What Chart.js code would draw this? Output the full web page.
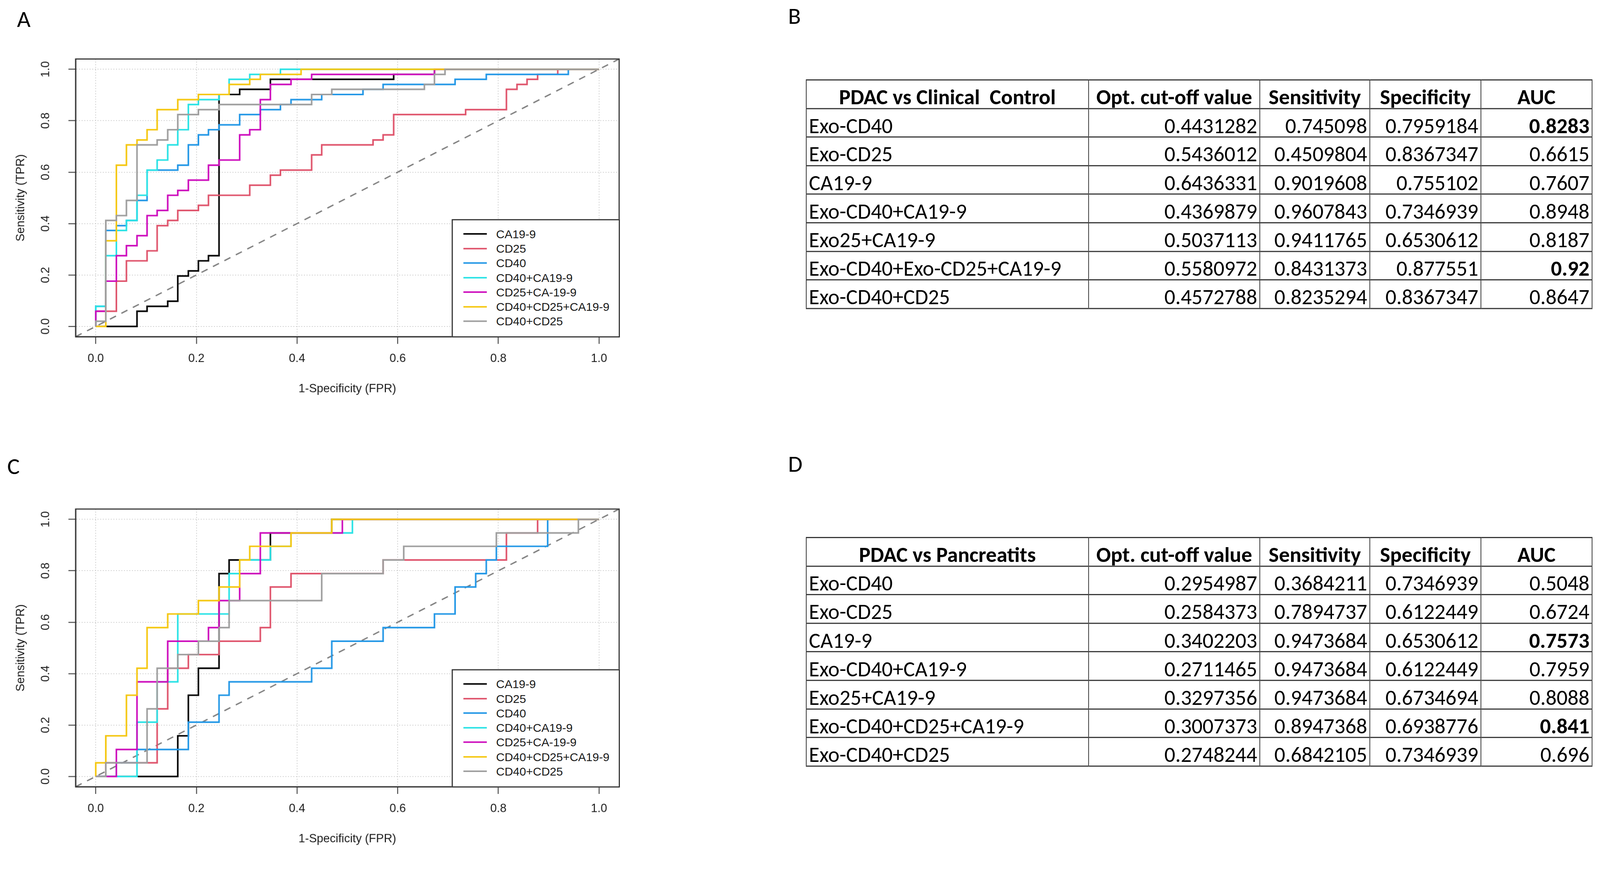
<!DOCTYPE html>
<html>
<head>
<meta charset="utf-8">
<title>ROC curves and cut-off tables</title>
<script src="https://cdn.jsdelivr.net/npm/chart.js@4.4.1/dist/chart.umd.min.js"></script>
<style>
  html, body { margin: 0; padding: 0; background: #fff; overflow: hidden; }
  #page { position: absolute; left: 0; top: 0; width: 4233px; height: 2256px; overflow: hidden;
          transform-origin: 0 0; background: #fff; }
  .plabel { position: absolute; font-family: Carlito, Lato, sans-serif; font-size: 62px; line-height: 62px; color: #000; }
  canvas { position: absolute; left: 0; }
  .legend { position: absolute; box-sizing: border-box; border: 3px solid #333; background: #fff;
            font-family: "Liberation Sans", Arial, sans-serif; font-size: 31px; color: #1a1a1a; }
  .legend .row { position: absolute; left: 0; width: 100%; height: 38px; line-height: 38px; white-space: nowrap; }
  .legend .swatch { position: absolute; left: 28px; top: 16px; width: 62px; height: 4px; }
  .legend .txt { position: absolute; left: 115px; top: 0; }
  table.res { position: absolute; left: 2132px; width: 2079px; border-collapse: collapse; table-layout: fixed;
              font-family: Carlito, Lato, sans-serif; font-size: 57px; line-height: 50px; color: #000; }
  table.res th, table.res td { border-style: solid; border-color: #333; border-width: 3px 2px;
                               padding: 16px 6px 0 6px; white-space: nowrap; overflow: hidden; vertical-align: middle; }
  table.res tr { height: 75.6px; }
  table.res th { font-weight: bold; text-align: center; }
  table.res td { text-align: right; font-weight: normal; }
  table.res td:first-child { text-align: left; }
  table.res td.b { font-weight: bold; }
  col.c1 { width: 747px; } col.c2 { width: 453px; } col.c3 { width: 291px; }
  col.c4 { width: 294px; } col.c5 { width: 294px; }
</style>
</head>
<body>
<div id="page">

<div class="plabel" style="left:45px;top:19px">A</div>
<div class="plabel" style="left:2085px;top:11px">B</div>
<div class="plabel" style="left:19px;top:1203px">C</div>
<div class="plabel" style="left:2085px;top:1196px">D</div>

<canvas id="rocA" width="1700" height="980" style="top:100px"></canvas>
<canvas id="rocC" width="1700" height="980" style="top:1291px"></canvas>

<div id="legA" class="legend" style="left:1194.5px;top:579.5px;width:445px;height:313px"></div>
<div id="legC" class="legend" style="left:1194.5px;top:1770.5px;width:445px;height:313px"></div>

<table id="tabB" class="res" style="top:210px">
  <colgroup><col class="c1"><col class="c2"><col class="c3"><col class="c4"><col class="c5"></colgroup>
  <tbody></tbody>
</table>
<table id="tabD" class="res" style="top:1421px">
  <colgroup><col class="c1"><col class="c2"><col class="c3"><col class="c4"><col class="c5"></colgroup>
  <tbody></tbody>
</table>

</div>

<script>
// axis ticks
const fprTicks = [0, 0.2, 0.4, 0.6, 0.8, 1.0];
const tickLabels = ['0.0', '0.2', '0.4', '0.6', '0.8', '1.0'];
const markers = ['CA19-9', 'CD25', 'CD40', 'CD40+CA19-9', 'CD25+CA-19-9', 'CD40+CD25+CA19-9', 'CD40+CD25'];
const chance = [[-0.04, -0.04], [1.04, 1.04]];

// A: PDAC vs clinical control, [FPR, TPR] corners of each ROC curve
const ctrlCA199 = [[0,0],[0.082,0],[0.082,0.059],[0.102,0.059],[0.102,0.078],[0.143,0.078],[0.143,0.098],[0.163,0.098],
  [0.163,0.196],[0.184,0.196],[0.184,0.216],[0.204,0.216],[0.204,0.255],[0.224,0.255],[0.224,0.275],[0.245,0.275],
  [0.245,0.902],[0.286,0.902],[0.286,0.922],[0.347,0.922],[0.347,0.961],[0.592,0.961],[0.592,0.980],[0.673,0.980],
  [0.673,1],[1,1]];
const ctrlCD25 = [[0,0],[0,0.059],[0.041,0.059],[0.041,0.176],[0.061,0.176],[0.061,0.255],[0.102,0.255],[0.102,0.294],
  [0.122,0.294],[0.122,0.392],[0.143,0.392],[0.143,0.412],[0.163,0.412],[0.163,0.451],[0.204,0.451],[0.204,0.471],
  [0.224,0.471],[0.224,0.510],[0.306,0.510],[0.306,0.549],[0.347,0.549],[0.347,0.588],[0.367,0.588],[0.367,0.608],
  [0.429,0.608],[0.429,0.667],[0.449,0.667],[0.449,0.706],[0.551,0.706],[0.551,0.725],[0.571,0.725],[0.571,0.745],
  [0.592,0.745],[0.592,0.824],[0.735,0.824],[0.735,0.843],[0.816,0.843],[0.816,0.922],[0.837,0.922],[0.837,0.941],
  [0.857,0.941],[0.857,0.961],[0.878,0.961],[0.878,0.980],[0.918,0.980],[0.918,1],[1,1]];
const ctrlCD40 = [[0,0],[0,0.078],[0.020,0.078],[0.020,0.373],[0.041,0.373],[0.041,0.392],[0.061,0.392],[0.061,0.412],
  [0.082,0.412],[0.082,0.490],[0.102,0.490],[0.102,0.608],[0.163,0.608],[0.163,0.627],[0.184,0.627],[0.184,0.706],
  [0.204,0.706],[0.204,0.745],[0.224,0.745],[0.224,0.765],[0.245,0.765],[0.245,0.784],[0.286,0.784],[0.286,0.824],
  [0.327,0.824],[0.327,0.843],[0.367,0.843],[0.367,0.863],[0.388,0.863],[0.388,0.882],[0.449,0.882],[0.449,0.902],
  [0.531,0.902],[0.531,0.922],[0.571,0.922],[0.571,0.941],[0.714,0.941],[0.714,0.961],[0.776,0.961],[0.776,0.980],
  [0.939,0.980],[0.939,1],[1,1]];
const ctrlCD40CA199 = [[0,0],[0,0.078],[0.020,0.078],[0.020,0.275],[0.041,0.275],[0.041,0.373],[0.061,0.373],[0.061,0.412],
  [0.082,0.412],[0.082,0.510],[0.102,0.510],[0.102,0.608],[0.122,0.608],[0.122,0.647],[0.143,0.647],[0.143,0.706],
  [0.163,0.706],[0.163,0.765],[0.184,0.765],[0.184,0.863],[0.204,0.863],[0.204,0.882],[0.245,0.882],[0.245,0.902],
  [0.265,0.902],[0.265,0.961],[0.306,0.961],[0.306,0.980],[0.367,0.980],[0.367,1],[1,1]];
const ctrlCD25CA199 = [[0,0],[0,0.059],[0.020,0.059],[0.020,0.176],[0.041,0.176],[0.041,0.275],[0.061,0.275],[0.061,0.314],
  [0.082,0.314],[0.082,0.353],[0.102,0.353],[0.102,0.431],[0.122,0.431],[0.122,0.451],[0.143,0.451],[0.143,0.510],
  [0.163,0.510],[0.163,0.529],[0.184,0.529],[0.184,0.569],[0.224,0.569],[0.224,0.627],[0.245,0.627],[0.245,0.647],
  [0.286,0.647],[0.286,0.745],[0.306,0.745],[0.306,0.765],[0.327,0.765],[0.327,0.882],[0.347,0.882],[0.347,0.941],
  [0.388,0.941],[0.388,0.961],[0.429,0.961],[0.429,0.980],[0.673,0.980],[0.673,1],[1,1]];
const ctrlCD40CD25CA199 = [[0,0],[0.020,0],[0.020,0.333],[0.041,0.333],[0.041,0.627],[0.061,0.627],[0.061,0.706],
  [0.082,0.706],[0.082,0.725],[0.102,0.725],[0.102,0.765],[0.122,0.765],[0.122,0.843],[0.163,0.843],[0.163,0.882],
  [0.204,0.882],[0.204,0.902],[0.265,0.902],[0.265,0.941],[0.306,0.941],[0.306,0.961],[0.327,0.961],[0.327,0.980],
  [0.408,0.980],[0.408,1],[1,1]];
const ctrlCD40CD25 = [[0,0],[0,0.020],[0.020,0.020],[0.020,0.412],[0.041,0.412],[0.041,0.431],[0.061,0.431],[0.061,0.490],
  [0.082,0.490],[0.082,0.706],[0.122,0.706],[0.122,0.725],[0.143,0.725],[0.143,0.765],[0.163,0.765],[0.163,0.824],
  [0.204,0.824],[0.204,0.843],[0.245,0.843],[0.245,0.863],[0.429,0.863],[0.429,0.902],[0.469,0.902],[0.469,0.922],
  [0.653,0.922],[0.653,0.941],[0.673,0.941],[0.673,0.980],[0.694,0.980],[0.694,1],[1,1]];

// C: PDAC vs pancreatitis
const pancCA199 = [[0,0],[0.163,0],[0.163,0.158],[0.184,0.158],[0.184,0.316],[0.204,0.316],[0.204,0.421],[0.245,0.421],
  [0.245,0.789],[0.265,0.789],[0.265,0.842],[0.347,0.842],[0.347,0.947],[0.469,0.947],[0.469,1],[1,1]];
const pancCD25 = [[0,0],[0.020,0],[0.020,0.053],[0.122,0.053],[0.122,0.263],[0.143,0.263],[0.143,0.421],[0.184,0.421],
  [0.184,0.474],[0.245,0.474],[0.245,0.526],[0.327,0.526],[0.327,0.579],[0.347,0.579],[0.347,0.737],[0.388,0.737],
  [0.388,0.789],[0.571,0.789],[0.571,0.842],[0.816,0.842],[0.816,0.947],[0.878,0.947],[0.878,1],[1,1]];
const pancCD40 = [[0,0],[0.041,0],[0.041,0.053],[0.082,0.053],[0.082,0.105],[0.184,0.105],[0.184,0.211],[0.245,0.211],
  [0.245,0.316],[0.265,0.316],[0.265,0.368],[0.429,0.368],[0.429,0.421],[0.469,0.421],[0.469,0.526],[0.571,0.526],
  [0.571,0.579],[0.673,0.579],[0.673,0.632],[0.714,0.632],[0.714,0.737],[0.755,0.737],[0.755,0.789],[0.776,0.789],
  [0.776,0.842],[0.796,0.842],[0.796,0.895],[0.898,0.895],[0.898,1],[1,1]];
const pancCD40CA199 = [[0,0],[0.082,0],[0.082,0.211],[0.122,0.211],[0.122,0.368],[0.163,0.368],[0.163,0.632],[0.265,0.632],
  [0.265,0.789],[0.286,0.789],[0.286,0.842],[0.347,0.842],[0.347,0.895],[0.388,0.895],[0.388,0.947],[0.510,0.947],
  [0.510,1],[1,1]];
const pancCD25CA199 = [[0,0],[0.041,0],[0.041,0.105],[0.082,0.105],[0.082,0.368],[0.143,0.368],[0.143,0.526],[0.224,0.526],
  [0.224,0.579],[0.245,0.579],[0.245,0.684],[0.286,0.684],[0.286,0.789],[0.327,0.789],[0.327,0.947],[0.490,0.947],
  [0.490,1],[1,1]];
const pancCD40CD25CA199 = [[0,0],[0,0.053],[0.020,0.053],[0.020,0.158],[0.061,0.158],[0.061,0.316],[0.082,0.316],
  [0.082,0.421],[0.102,0.421],[0.102,0.579],[0.143,0.579],[0.143,0.632],[0.204,0.632],[0.204,0.684],[0.245,0.684],
  [0.245,0.737],[0.286,0.737],[0.286,0.842],[0.306,0.842],[0.306,0.895],[0.388,0.895],[0.388,0.947],[0.469,0.947],
  [0.469,1],[1,1]];
const pancCD40CD25 = [[0,0],[0.020,0],[0.020,0.053],[0.102,0.053],[0.102,0.263],[0.122,0.263],[0.122,0.421],[0.163,0.421],
  [0.163,0.474],[0.204,0.474],[0.204,0.526],[0.245,0.526],[0.245,0.579],[0.265,0.579],[0.265,0.684],[0.449,0.684],
  [0.449,0.789],[0.571,0.789],[0.571,0.842],[0.612,0.842],[0.612,0.895],[0.796,0.895],[0.796,0.947],[0.959,0.947],
  [0.959,1],[1,1]];

// tables
const tableCols = ['Opt. cut-off value', 'Sensitivity', 'Specificity', 'AUC'];
const rowNamesB = ['Exo-CD40', 'Exo-CD25', 'CA19-9', 'Exo-CD40+CA19-9', 'Exo25+CA19-9', 'Exo-CD40+Exo-CD25+CA19-9', 'Exo-CD40+CD25'];
const cutoffB = [0.4431282, 0.5436012, 0.6436331, 0.4369879, 0.5037113, 0.5580972, 0.4572788];
const sensB = [0.745098, 0.4509804, 0.9019608, 0.9607843, 0.9411765, 0.8431373, 0.8235294];
const specB = [0.7959184, 0.8367347, 0.755102, 0.7346939, 0.6530612, 0.877551, 0.8367347];
const aucB = [0.8283, 0.6615, 0.7607, 0.8948, 0.8187, 0.92, 0.8647];
const boldB = [0, 5];

const rowNamesD = ['Exo-CD40', 'Exo-CD25', 'CA19-9', 'Exo-CD40+CA19-9', 'Exo25+CA19-9', 'Exo-CD40+CD25+CA19-9', 'Exo-CD40+CD25'];
const cutoffD = [0.2954987, 0.2584373, 0.3402203, 0.2711465, 0.3297356, 0.3007373, 0.2748244];
const sensD = [0.3684211, 0.7894737, 0.9473684, 0.9473684, 0.9473684, 0.8947368, 0.6842105];
const specD = [0.7346939, 0.6122449, 0.6530612, 0.6122449, 0.6734694, 0.6938776, 0.7346939];
const aucD = [0.5048, 0.6724, 0.7573, 0.7959, 0.8088, 0.841, 0.696];
const boldD = [2, 5];

// styles
const lineColors = ['#000000', '#DF536B', '#2297E6', '#28E2E5', '#CD0BBC', '#F5C710', '#9E9E9E'];
const rFont = { family: '"Liberation Sans", Arial, sans-serif', size: 31 };
const ink = '#1a1a1a';
const frameColor = '#333';

// the figure is laid out at 4233 x 2256; shrink it if the viewport is smaller
const fit = Math.min(window.innerWidth / 4233, window.innerHeight / 2256);
if (fit > 0 && fit < 0.999) {
    document.getElementById('page').style.transform = `scale(${fit})`;
}

const framePlugin = {
    id: 'frame',
    afterDraw(chart) {
        const { ctx, chartArea: a } = chart;
        ctx.save();
        ctx.strokeStyle = frameColor;
        ctx.lineWidth = 3;
        ctx.strokeRect(a.left, a.top, a.right - a.left, a.bottom - a.top);
        ctx.restore();
    }
};

function axisOpts(vertical) {
    return {
        type: 'linear',
        min: -0.04,
        max: 1.04,
        afterBuildTicks: s => { s.ticks = fprTicks.map(v => ({ value: v })); },
        afterFit: s => { if (vertical) s.width = 200; else s.height = 189; },
        ticks: {
            callback: (v, i) => tickLabels[i],
            font: rFont,
            color: ink,
            autoSkip: false,
            padding: vertical ? 37.5 : 20.5,
            minRotation: vertical ? 90 : 0,
            maxRotation: vertical ? 90 : 0,
            crossAlign: vertical ? 'center' : 'near'
        },
        grid: {
            color: '#c8c8c8',
            lineWidth: 2,
            drawTicks: true,
            tickLength: 19,
            tickColor: '#444',
            tickWidth: 2.5,
            tickBorderDash: [1000, 0]
        },
        border: { display: true, color: frameColor, width: 3, dash: [2.5, 4.5] },
        title: {
            display: true,
            text: vertical ? 'Sensitivity (TPR)' : '1-Specificity (FPR)',
            font: rFont,
            color: ink,
            padding: vertical ? { top: 36.5, bottom: 0 } : { top: 0, bottom: 32 }
        }
    };
}

function rocChart(canvasId, legendId, curves) {

    let datasets = curves.map((c, i) => ({
        label: markers[i],
        data: c.map(p => ({ x: p[0], y: p[1] })),
        borderColor: lineColors[i],
        borderWidth: 4.2,
        pointRadius: 0,
        tension: 0,
        fill: false,
        order: curves.length - i
    }));

    datasets.push({
        label: 'chance',
        data: chance.map(p => ({ x: p[0], y: p[1] })),
        borderColor: '#7f7f7f',
        borderWidth: 3.5,
        borderDash: [18, 16],
        pointRadius: 0,
        fill: false,
        order: curves.length + 1
    });

    const chart = new Chart(document.getElementById(canvasId), {
        type: 'line',
        data: { datasets: datasets },
        options: {
            responsive: false,
            animation: false,
            layout: { padding: { left: 0, top: 40, right: 62, bottom: 0 } },
            plugins: { legend: { display: false }, tooltip: { enabled: false } },
            scales: { x: axisOpts(false), y: axisOpts(true) }
        },
        plugins: [framePlugin]
    });

    // R style legend box in the lower right corner
    let box = document.getElementById(legendId);
    chart.data.datasets.filter(d => d.label !== 'chance').forEach((d, i) => {
        let row = document.createElement('div');
        row.className = 'row';
        row.style.top = (18.5 + i * 38.5) + 'px';
        row.innerHTML = `<span class="swatch" style="background:${d.borderColor}"></span><span class="txt">${d.label}</span>`;
        box.appendChild(row);
    });
}

function fillTable(id, title, names, cutoff, sens, spec, auc, bold) {
    let body = document.querySelector('#' + id + ' tbody');
    let rows = '<tr><th>' + title + '</th>' + tableCols.map(c => '<th>' + c + '</th>').join('') + '</tr>';
    names.forEach((n, i) => {
        rows += `<tr><td>${n}</td><td>${cutoff[i]}</td><td>${sens[i]}</td><td>${spec[i]}</td>` +
                `<td${bold.includes(i) ? ' class="b"' : ''}>${auc[i]}</td></tr>`;
    });
    body.innerHTML = rows;
}

rocChart('rocA', 'legA', [ctrlCA199, ctrlCD25, ctrlCD40, ctrlCD40CA199, ctrlCD25CA199, ctrlCD40CD25CA199, ctrlCD40CD25]);
rocChart('rocC', 'legC', [pancCA199, pancCD25, pancCD40, pancCD40CA199, pancCD25CA199, pancCD40CD25CA199, pancCD40CD25]);

fillTable('tabB', 'PDAC vs Clinical&nbsp; Control', rowNamesB, cutoffB, sensB, specB, aucB, boldB);
fillTable('tabD', 'PDAC vs Pancreatits', rowNamesD, cutoffD, sensD, specD, aucD, boldD);
</script>
</body>
</html>
